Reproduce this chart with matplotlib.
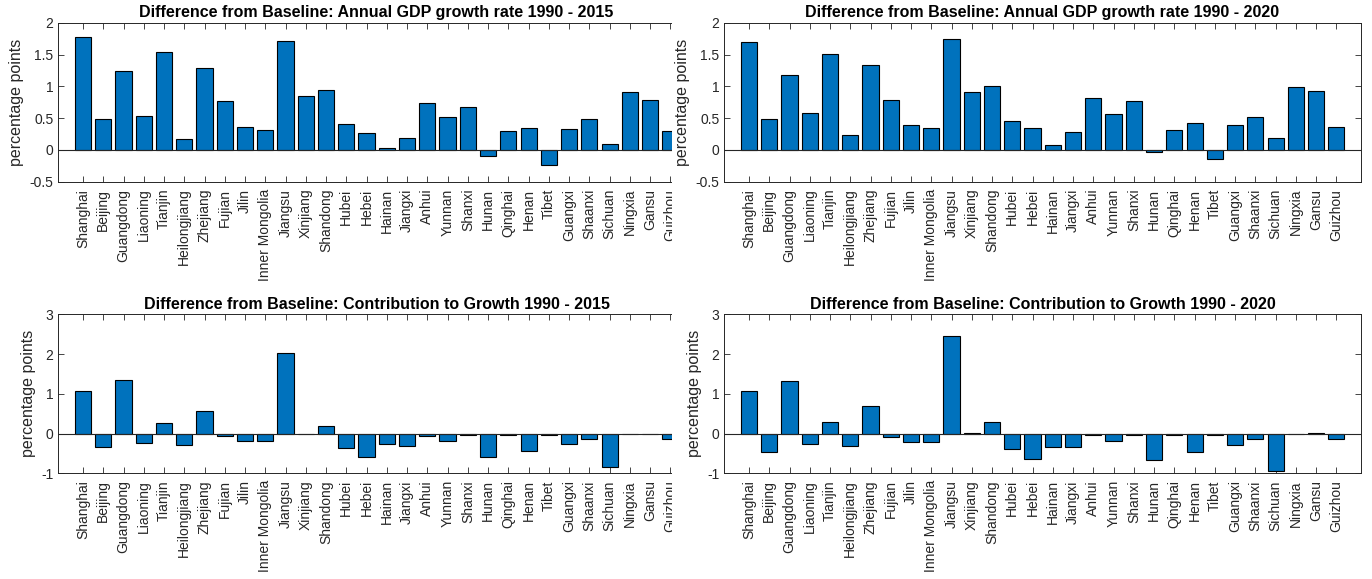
import matplotlib
matplotlib.use("Agg")
import matplotlib.pyplot as plt
from matplotlib.patches import Rectangle
import numpy as np

plt.rcParams['font.family'] = ['Liberation Sans', 'DejaVu Sans']

provinces = ["Shanghai", "Beijing", "Guangdong", "Liaoning", "Tianjin", "Heilongjiang",
             "Zhejiang", "Fujian", "Jilin", "Inner Mongolia", "Jiangsu", "Xinjiang",
             "Shandong", "Hubei", "Hebei", "Hainan", "Jiangxi", "Anhui", "Yunnan",
             "Shanxi", "Hunan", "Qinghai", "Henan", "Tibet", "Guangxi", "Shaanxi",
             "Sichuan", "Ningxia", "Gansu", "Guizhou"]

gdp_growth_2015 = [1.78, 0.49, 1.24, 0.535, 1.535, 0.168, 1.28, 0.776, 0.356, 0.31,
                   1.71, 0.85, 0.94, 0.40, 0.26, 0.026, 0.18, 0.73, 0.51, 0.68,
                   -0.09, 0.29, 0.35, -0.23, 0.33, 0.49, 0.10, 0.91, 0.79, 0.29]

gdp_growth_2020 = [1.69, 0.49, 1.18, 0.577, 1.515, 0.236, 1.33, 0.78, 0.39, 0.34,
                   1.745, 0.917, 1.0, 0.456, 0.35, 0.073, 0.278, 0.823, 0.56, 0.776,
                   -0.037, 0.32, 0.42, -0.147, 0.388, 0.524, 0.194, 0.985, 0.933, 0.36]

contrib_2015 = [1.062, -0.33, 1.34, -0.25, 0.257, -0.296, 0.56, -0.053, -0.20, -0.196,
                2.017, -0.005, 0.198, -0.363, -0.598, -0.27, -0.305, -0.053, -0.18, -0.045,
                -0.59, -0.045, -0.43, -0.045, -0.27, -0.13, -0.85, -0.01, -0.02, -0.13]

contrib_2020 = [1.079, -0.47, 1.31, -0.27, 0.28, -0.31, 0.69, -0.087, -0.22, -0.22,
                2.46, 0.02, 0.28, -0.40, -0.63, -0.34, -0.33, -0.03, -0.20, -0.03,
                -0.67, -0.045, -0.47, -0.045, -0.30, -0.145, -0.94, -0.01, 0.015, -0.145]

titles = ["Difference from Baseline: Annual GDP growth rate 1990 - 2015",
          "Difference from Baseline: Annual GDP growth rate 1990 - 2020",
          "Difference from Baseline: Contribution to Growth 1990 - 2015",
          "Difference from Baseline: Contribution to Growth 1990 - 2020"]

growth_ticks = [-0.5, 0, 0.5, 1, 1.5, 2]
growth_ticklabels = ["-0.5", "0", "0.5", "1", "1.5", "2"]
contrib_ticks = [-1, 0, 1, 2, 3]
contrib_ticklabels = ["-1", "0", "1", "2", "3"]

BAR_COLOR = "#0072BD"
AX_COLOR = "#262626"

W, H = 1372, 579
fig = plt.figure(figsize=(W / 100, H / 100), dpi=100)
fig.patch.set_facecolor("white")


def fig_rect(x0, y_top, w, h):
    return [x0 / W, 1 - (y_top + h) / H, w / W, h / H]


ax_w, ax_h = 636.4, 159.0
lefts = [58.3, 724.3]
tops = [22.7, 314.3]

panels = [
    (gdp_growth_2015, growth_ticks, growth_ticklabels, (-0.5, 2)),
    (gdp_growth_2020, growth_ticks, growth_ticklabels, (-0.5, 2)),
    (contrib_2015, contrib_ticks, contrib_ticklabels, (-1, 3)),
    (contrib_2020, contrib_ticks, contrib_ticklabels, (-1, 3)),
]

x = np.arange(1, len(provinces) + 1)

for i, (vals, yt, ytl, ylim) in enumerate(panels):
    row, col = divmod(i, 2)
    ax = fig.add_axes(fig_rect(lefts[col], tops[row], ax_w, ax_h))
    ax.set_zorder(2 if col == 1 else 0)
    ax.bar(x, vals, width=0.8, color=BAR_COLOR, edgecolor="black", linewidth=0.8, zorder=2)
    ax.axhline(0, color=AX_COLOR, linewidth=0.8, zorder=3)
    ax.set_xlim(1 - 1.22, len(provinces) + 1.2)
    ax.set_ylim(*ylim)
    ax.set_xticks(x)
    ax.set_xticklabels(provinces, rotation=90, fontsize=10, color=AX_COLOR)
    ax.set_yticks(yt)
    ax.set_yticklabels(ytl, fontsize=10, color=AX_COLOR)
    ax.tick_params(axis="both", direction="in", length=4.6, width=0.6, color=AX_COLOR,
                   top=True, right=True)
    ax.tick_params(axis="x", pad=5)
    for sp in ax.spines.values():
        sp.set_color(AX_COLOR)
        sp.set_linewidth(0.7)
    ax.set_ylabel("percentage points", fontsize=11.5, color=AX_COLOR)
    ax.set_title(titles[i], fontsize=11.5, fontweight="bold", pad=4)

# the left column is trimmed at its right edge
fig.patches.append(Rectangle((672 / W, 0), 60 / W, 1, transform=fig.transFigure,
                             facecolor="white", edgecolor="none", zorder=1))

fig.savefig("out.png", dpi=100, facecolor="white")
